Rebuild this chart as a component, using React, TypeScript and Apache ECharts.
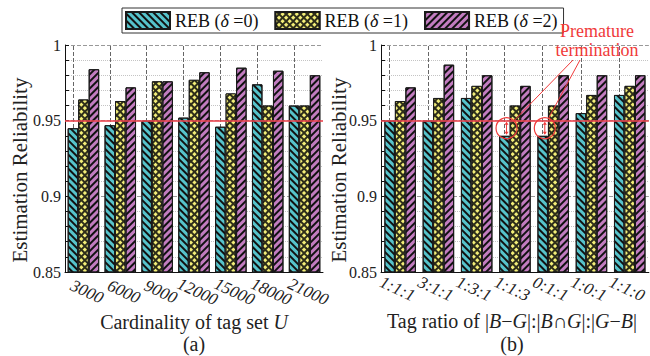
import React, { useEffect, useRef } from "react";
import * as echarts from "echarts";

const categoriesA = ["3000", "6000", "9000", "12000", "15000", "18000", "21000"];
const categoriesB = ["1:1:1", "3:1:1", "1:3:1", "1:1:3", "0:1:1", "1:0:1", "1:1:0"];
const seriesNames = ["REB (δ=0)", "REB (δ=1)", "REB (δ=2)"];
const legendParts = ["0", "1", "2"];

const a0 = [0.945, 0.947, 0.95, 0.952, 0.946, 0.974, 0.96];
const a1 = [0.964, 0.963, 0.976, 0.977, 0.968, 0.96, 0.96];
const a2 = [0.984, 0.972, 0.976, 0.982, 0.985, 0.983, 0.98];

const b0 = [0.95, 0.95, 0.965, 0.94, 0.94, 0.955, 0.967];
const b1 = [0.963, 0.965, 0.973, 0.96, 0.96, 0.967, 0.973];
const b2 = [0.972, 0.987, 0.98, 0.973, 0.98, 0.98, 0.98];

const threshold = 0.95;
const prematureIdx = [3, 4];
const prematureLow = 0.94;

const SERIF = "'Liberation Serif', 'Times New Roman', serif";

const colors = ["#56c3cb", "#2e2e1a", "#c27cc0"];
const decals: any[] = [
  { symbol: "rect", symbolSize: 1, dashArrayX: [1, 0], dashArrayY: [1.1, 2.4], rotation: Math.PI / 4, color: "#111" },
  { symbol: "rect", symbolSize: 1, dashArrayX: [2.4, 1.1], dashArrayY: [2.4, 1.1], rotation: Math.PI / 4, color: "#f3ee78" },
  { symbol: "rect", symbolSize: 1, dashArrayX: [1, 0], dashArrayY: [1.1, 2.4], rotation: -Math.PI / 4, color: "#111" },
];

const BAR_W = 10.5;

function makeYAxis(gridIndex: number) {
  return {
    type: "value",
    gridIndex,
    min: 0.85,
    max: 1,
    interval: 0.05,
    axisLine: { show: true, lineStyle: { color: "#111", width: 1 } },
    axisTick: { show: true, inside: true, length: 4, lineStyle: { color: "#111" } },
    minorTick: { show: true, splitNumber: 5, length: 4, lineStyle: { color: "#111" } },
    axisLabel: {
      fontFamily: SERIF,
      fontSize: 16,
      color: "#222",
      margin: 4,
      formatter: (v: number) => String(+v.toFixed(2)),
    },
    splitLine: { show: true, lineStyle: { color: "#999", type: "dashed", width: 1 } },
    minorSplitLine: { show: true, lineStyle: { color: "#c4c4c4", type: "dotted", width: 1 } },
  };
}

function makeXAxis(gridIndex: number, data: string[], padding: number[]) {
  return {
    type: "category",
    gridIndex,
    data,
    axisLine: { show: true, lineStyle: { color: "#111", width: 1 } },
    axisTick: { show: false },
    splitLine: { show: false },
    axisLabel: {
      interval: 0,
      rotate: -25,
      align: "center",
      verticalAlign: "middle",
      margin: 18,
      padding,
      fontFamily: SERIF,
      fontStyle: "italic",
      fontSize: 17,
      color: "#222",
    },
  };
}

function makeSeries(gi: number, values: number[][], cats: string[]) {
  return values.map((vals, i) => {
    const s: any = {
      type: "bar",
      name: seriesNames[i],
      xAxisIndex: gi,
      yAxisIndex: gi,
      data: vals,
      barWidth: BAR_W,
      barGap: "0%",
      itemStyle: { color: colors[i], borderColor: "#1a1a1a", borderWidth: 1, decal: decals[i] },
      emphasis: { disabled: true },
    };
    if (i === 0) {
      s.markLine = {
        silent: true,
        symbol: "none",
        z: 1,
        label: { show: false },
        lineStyle: { type: "dashed", color: "#666", width: 1 },
        data: cats.map((c) => ({ xAxis: c })),
      };
    }
    if (i === 1) {
      s.markLine = {
        silent: true,
        symbol: "none",
        z: 5,
        label: { show: false },
        lineStyle: { type: "solid", color: "rgba(235,70,80,0.8)", width: 2 },
        data: [{ yAxis: threshold }],
      };
    }
    return s;
  });
}

export default function App() {
  const ref = useRef<HTMLDivElement>(null);

  useEffect(() => {
    if (!ref.current) return;
    const chart = echarts.init(ref.current, undefined, { renderer: "svg" });
    const option: any = {
      animation: false,
      backgroundColor: "#fff",
      legend: {
        top: 8,
        left: 122,
        itemWidth: 44,
        itemHeight: 17,
        itemGap: 16,
        padding: [3, 6, 3, 3],
        borderColor: "#333",
        borderWidth: 1,
        icon: "rect",
        data: seriesNames,
        formatter: (name: string) => {
          const k = seriesNames.indexOf(name);
          return `{n|REB (}{i|δ}{n| =${legendParts[k]})}`;
        },
        textStyle: {
          fontFamily: SERIF,
          fontSize: 18,
          color: "#111",
          rich: {
            n: { fontFamily: SERIF, fontSize: 18, color: "#111" },
            i: { fontFamily: SERIF, fontSize: 18, color: "#111", fontStyle: "italic" },
          },
        },
      },
      grid: [
        { left: 65, top: 45, width: 258, height: 227 },
        { left: 381, top: 45, width: 268, height: 227 },
      ],
      xAxis: [makeXAxis(0, categoriesA, [0, 0, 0, 8]), makeXAxis(1, categoriesB, [0, 6, 0, 0])],
      yAxis: [makeYAxis(0), makeYAxis(1)],
      series: [...makeSeries(0, [a0, a1, a2], categoriesA), ...makeSeries(1, [b0, b1, b2], categoriesB)],
      graphic: [],
    };
    chart.setOption(option);

    const red = "#f03a3a";
    const richStyle = {
      n: { fontFamily: SERIF, fontSize: 20, fill: "#222" },
      i: { fontFamily: SERIF, fontSize: 20, fill: "#222", fontStyle: "italic" },
    };
    const g: any[] = [
      {
        type: "text",
        x: 20,
        y: 170,
        rotation: Math.PI / 2,
        style: { text: "Estimation Reliability", align: "center", verticalAlign: "middle", fontFamily: SERIF, fontSize: 21, fill: "#222" },
      },
      {
        type: "text",
        x: 339,
        y: 170,
        rotation: Math.PI / 2,
        style: { text: "Estimation Reliability", align: "center", verticalAlign: "middle", fontFamily: SERIF, fontSize: 21, fill: "#222" },
      },
      {
        type: "text",
        x: 194,
        y: 322,
        style: {
          text: "{n|Cardinality of tag set }{i|U}",
          align: "center",
          verticalAlign: "middle",
          rich: richStyle,
        },
      },
      {
        type: "text",
        x: 194,
        y: 344,
        style: { text: "(a)", align: "center", verticalAlign: "middle", fontFamily: SERIF, fontSize: 20, fill: "#222" },
      },
      {
        type: "text",
        x: 512,
        y: 321,
        style: {
          text: "{n|Tag ratio of |}{i|B}{n|−}{i|G}{n||:|}{i|B}{n|∩}{i|G}{n||:|}{i|G}{n|−}{i|B}{n||}",
          align: "center",
          verticalAlign: "middle",
          rich: richStyle,
        },
      },
      {
        type: "text",
        x: 512,
        y: 344,
        style: { text: "(b)", align: "center", verticalAlign: "middle", fontFamily: SERIF, fontSize: 20, fill: "#222" },
      },
      {
        type: "text",
        x: 597,
        y: 31,
        z: 10,
        style: { text: "Premature", align: "center", verticalAlign: "middle", fontFamily: SERIF, fontSize: 18, fill: red },
      },
      {
        type: "text",
        x: 597,
        y: 50,
        z: 10,
        style: { text: "termination", align: "center", verticalAlign: "middle", fontFamily: SERIF, fontSize: 18, fill: red },
      },
    ];

    const yHi = chart.convertToPixel({ yAxisIndex: 1 } as any, threshold) as number;
    const yLo = chart.convertToPixel({ yAxisIndex: 1 } as any, prematureLow) as number;
    const anchors = [
      [573, 60],
      [580, 60],
    ];
    prematureIdx.forEach((idx, k) => {
      const cx0 = chart.convertToPixel({ xAxisIndex: 1 } as any, categoriesB[idx]) as number;
      const cx = cx0 - BAR_W * 0.8;
      const cy = (yHi + yLo) / 2;
      const r = 10.5;
      g.push({
        type: "circle",
        z: 10,
        shape: { cx, cy, r },
        style: { fill: "none", stroke: red, lineWidth: 1.2 },
      });
      const ax = cx;
      g.push({
        type: "line",
        z: 10,
        shape: { x1: ax, y1: yHi + 2, x2: ax, y2: yLo - 2 },
        style: { stroke: red, lineWidth: 1 },
      });
      g.push({
        type: "polygon",
        z: 10,
        shape: { points: [[ax, yHi + 1], [ax - 2, yHi + 4], [ax + 2, yHi + 4]] },
        style: { fill: red },
      });
      g.push({
        type: "polygon",
        z: 10,
        shape: { points: [[ax, yLo - 1], [ax - 2, yLo - 4], [ax + 2, yLo - 4]] },
        style: { fill: red },
      });
      const ang = k === 0 ? -Math.PI / 4 : -Math.PI / 2.6;
      g.push({
        type: "line",
        z: 10,
        shape: { x1: anchors[k][0], y1: anchors[k][1], x2: cx + r * Math.cos(ang), y2: cy + r * Math.sin(ang) },
        style: { stroke: red, lineWidth: 1 },
      });
    });

    chart.setOption({ graphic: g });

    return () => chart.dispose();
  }, []);

  return <div ref={ref} style={{ position: "fixed", left: 0, top: 0, width: 650, height: 356 }} />;
}
